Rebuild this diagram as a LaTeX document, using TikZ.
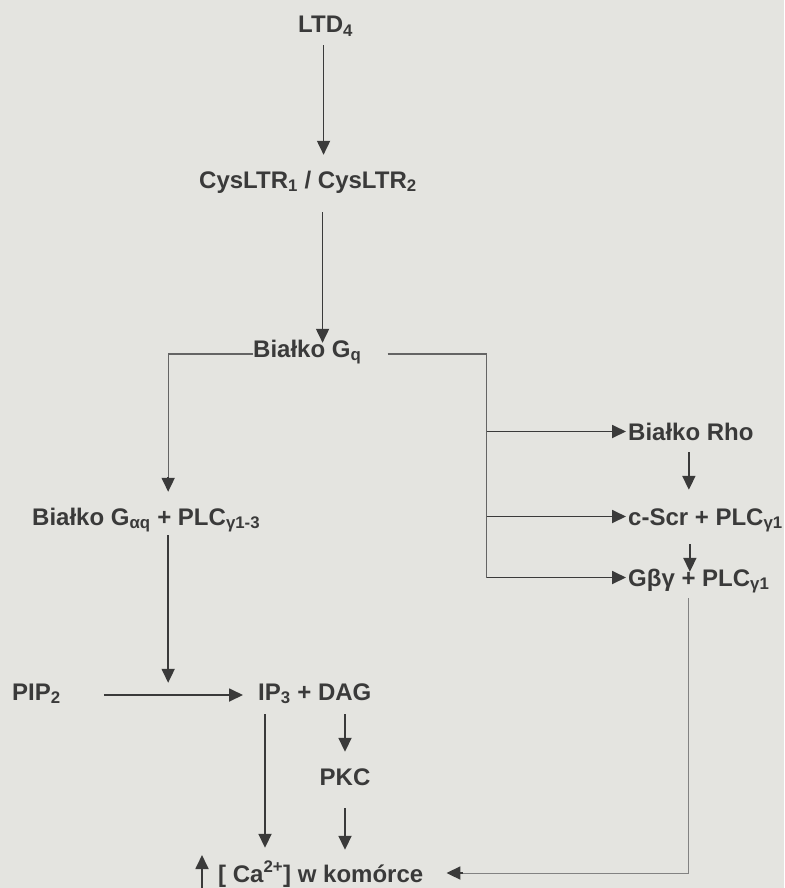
\documentclass[tikz,border=0pt]{standalone}
\usepackage{fontspec}
\setmainfont{Liberation Sans}
\usetikzlibrary{arrows.meta,calc}
\definecolor{bg}{RGB}{228,228,224}
\definecolor{ink}{RGB}{58,58,58}
\definecolor{inkl}{RGB}{100,100,100}
\definecolor{inkt}{RGB}{130,130,130}
\begin{document}
\begin{tikzpicture}[x=1pt,y=-1pt,
  lbl/.style={font=\fontsize{24}{28}\selectfont\bfseries, text=ink, inner sep=0pt,
              text height=18pt, text depth=5pt, anchor=base west},
  arr/.style={draw=ink, line width=1.8pt, -{Triangle[width=13pt,length=14pt]}},
  lnk/.style={draw=inkl, line width=1.3pt},
  thinl/.style={draw=inkt, line width=0.9pt}]
\fill[bg] (0,0) rectangle (784,888);
\useasboundingbox (0,0) rectangle (784,888);

\node[lbl] (ltd) at (298,33) {LTD\textsubscript{4}};
\node[lbl] (cys) at (199,188) {CysLTR\textsubscript{1} / CysLTR\textsubscript{2}};
\node[lbl] (gq)  at (253,357) {Białko G\textsubscript{q}};
\node[lbl] (rho) at (628,440) {Białko Rho};
\node[lbl] (csr) at (628,525) {c-Scr + PLC\textsubscript{γ1}};
\node[lbl] (gby) at (628,586) {Gβγ + PLC\textsubscript{γ1}};
\node[lbl] (gaq) at (32,525) {Białko G\textsubscript{αq} + PLC\textsubscript{γ1-3}};
\node[lbl] (pip) at (12,700) {PIP\textsubscript{2}};
\node[lbl] (ip3) at (258,700) {IP\textsubscript{3} + DAG};
\node[lbl, anchor=base] (pkc) at (345,785) {PKC};
\node[lbl] (ca)  at (218,882) {[ Ca\textsuperscript{2+}] w komórce};

% main chain
\draw[arr] ($(ltd.south)+(-2,7)$) -- ($(ltd.south |- cys.north)+(-2,-15)$);
\draw[arr] ($(ltd.south |- cys.south)+(-3,19)$) -- ($(ltd.south |- gq.north)+(-3,4)$);

% left branch
\draw[lnk] ($(gq.base west)+(0,-3)$) -| ($(gaq.north)+(22,-28)$);
\draw[arr] ($(gaq.north)+(22,-30)$) -- ($(gaq.north)+(22,-15)$);

% right bus
\coordinate (bus) at ($(gq.base east)+(125,-3)$);
\draw[lnk] ($(gq.base east)+(26,-3)$) -- (bus) -- ($(bus |- gby.west)+(0,-2)$);
\draw[arr] ($(bus |- rho.west)+(0,-2)$) -- ($(rho.west)+(-2,-2)$);
\draw[arr] ($(bus |- csr.west)+(0,-2)$) -- ($(csr.west)+(-2,-2)$);
\draw[arr] ($(bus |- gby.west)+(0,-2)$) -- ($(gby.west)+(-2,-2)$);

% right column
\draw[arr] ($(rho.south)+(-2,7)$) -- ($(rho.south |- csr.north)+(-2,-17)$);
\draw[arr] ($(rho.south |- csr.south)+(-1,14)$) -- ($(rho.south |- gby.north)+(-1,4)$);
\draw[thinl] ($(rho.south |- gby.south)+(-2,7)$) |- ($(ca.base east)+(33,-9)$);
\draw[arr] ($(ca.base east)+(40,-9)$) -- ($(ca.base east)+(23,-9)$);

% left column
\draw[arr] ($(gaq.south)+(22,5)$) -- ($(gaq.south |- ip3.north)+(22,1)$);
\draw[arr] ($(pip.base east)+(43,-5)$) -- ($(ip3.base west)+(-15,-5)$);
\draw[arr] ($(ip3.base west)+(7,14)$) -- ($(ip3.base west |- ca.north)+(7,-16)$);
\draw[arr] ($(ip3.base west)+(87,14)$) -- ($(ip3.base west |- pkc.north)+(87,-15)$);
\draw[arr] ($(pkc.south)+(0,18)$) -- ($(pkc.south |- ca.north)+(0,-14)$);

% increase marker
\draw[arr] ($(ca.base west)+(-16,6)$) -- ($(ca.base west)+(-16,-27)$);
\end{tikzpicture}
\end{document}
